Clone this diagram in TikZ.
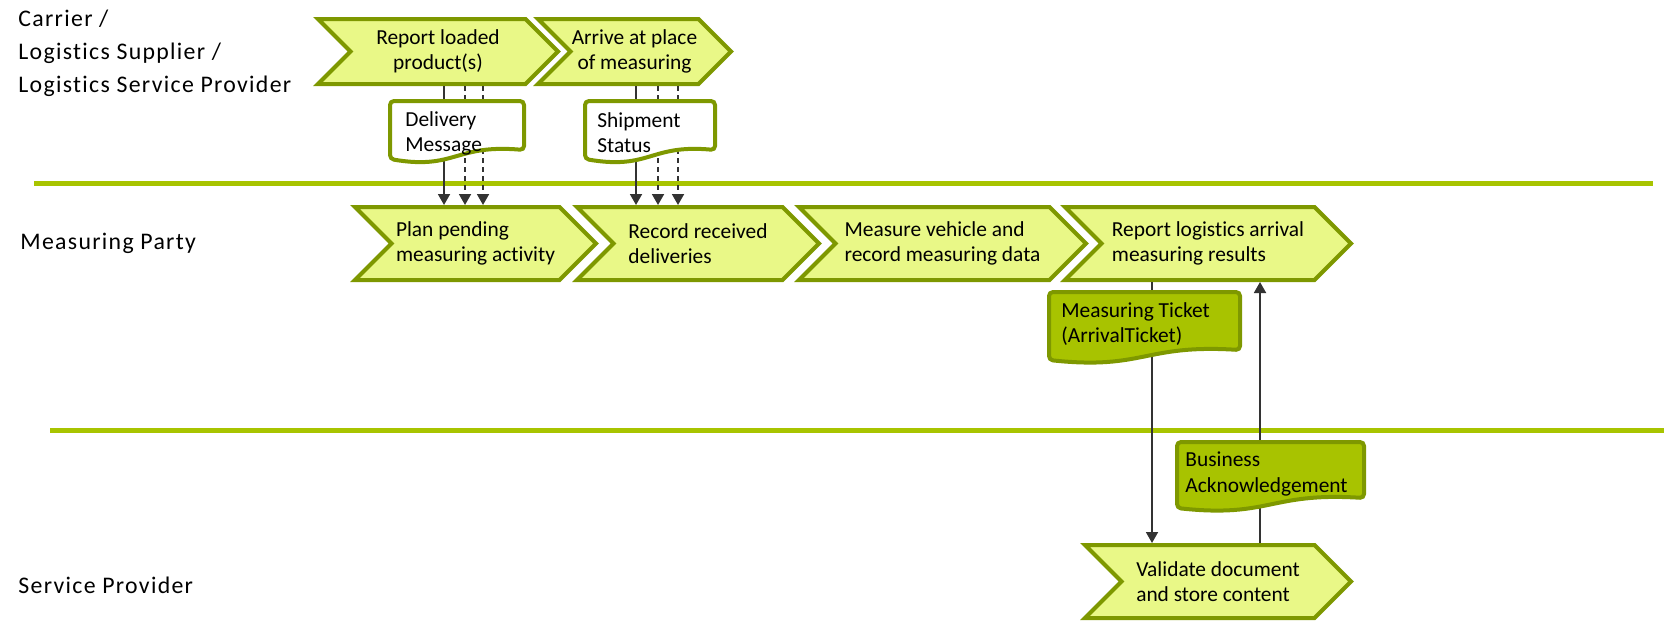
\documentclass[tikz,border=0pt]{standalone}
\usepackage{fontspec}
\setmainfont{Carlito}[Ligatures=NoCommon]
\newfontfamily\lanefont{Carlito}[LetterSpace=5.5, Ligatures=NoCommon]
\usetikzlibrary{shapes.symbols,arrows.meta}

\definecolor{lanegreen}{HTML}{A8C400}
\definecolor{olive}{HTML}{7E9800}
\definecolor{chevfill}{HTML}{E9F887}
\definecolor{docgreen}{HTML}{A8C300}
\definecolor{flowgray}{HTML}{333333}

\begin{document}
\begin{tikzpicture}[
  x=0.5pt, y=-0.5pt,
  font=\fontsize{10.7}{12.6}\selectfont,
  lane/.style={draw=lanegreen, line width=2.5pt},
  lbl/.style={font=\lanefont\fontsize{11.9}{16.5}\selectfont, align=left, anchor=west, inner sep=0},
  chev/.style={signal, signal from=west, signal to=east, signal pointer angle=90,
    draw=olive, fill=chevfill, line width=2pt, inner sep=0, align=left},
  docbox/.style={draw=olive, line width=2pt, rounded corners=2pt},
  doctxt/.style={align=left, anchor=west, inner sep=0},
  flow/.style={draw=flowgray, line width=0.9pt, -{Triangle[width=6pt,length=5.5pt]}},
  dashflow/.style={dash pattern=on 2.5pt off 2pt},
]
\useasboundingbox (0,0) rectangle (1664,623);
% --- lane labels ---
\node[lbl] (carrier) at (18,53) {Carrier /\\Logistics Supplier /\\Logistics Service Provider};
\node[lbl] (mparty) at (20,243) {Measuring Party};
\node[lbl] (sprov) at (18,585) {Service Provider};
% --- lane separators ---
\draw[lane] (34,183) -- (1653,183);
\draw[lane] (50,430) -- (1664,430);
% ===================== CARRIER (top) =====================
\node[chev, align=center, minimum width=120pt, minimum height=32.5pt] (report) at (438,51.5) {Report loaded\\product(s)};
\node[chev, align=center, minimum width=96.5pt, minimum height=32.5pt] (arrive) at (634.5,51.5) {Arrive at place\\of measuring};
% ===================== MEASURING PARTY (middle) =====================
\node[chev, minimum width=120.5pt, minimum height=36.5pt] (plan) at (475.5,243.5) {Plan pending\\measuring activity};
\node[chev, minimum width=121pt, minimum height=36.5pt] (record) at (698,243.5) {Record received\\deliveries};
\node[chev, minimum width=143.5pt, minimum height=36.5pt] (measure) at (942.5,243.5) {Measure vehicle and\\record measuring data};
\node[chev, minimum width=143pt, minimum height=36.5pt] (results) at (1208,243.5) {Report logistics arrival\\measuring results};
% ===================== SERVICE PROVIDER (bottom) =====================
\node[chev, minimum width=133pt, minimum height=36.5pt] (validate) at (1218,581.5) {Validate document\\and store content};
% --- message flows ---
\foreach \dx/\ls in {3/solid, 13.5/dashflow, 22.5/dashflow}
  \draw[flow, \ls] ([xshift=\dx pt]report.south) -- ([xshift=\dx pt]report.south |- plan.north);
\foreach \dx/\ls in {0.75/solid, 11.75/dashflow, 21.75/dashflow}
  \draw[flow, \ls] ([xshift=\dx pt]arrive.south) -- ([xshift=\dx pt]arrive.south |- record.north);
\draw[flow] ([xshift=-28pt]results.south) -- ([xshift=-28pt]results.south |- validate.north);
\draw[flow] ([xshift=21pt]validate.north) -- ([xshift=21pt]validate.north |- results.south);
% --- documents ---
\path[docbox, fill=white] (390,101) -- (524,101) -- (524,150) .. controls (455,144) and (455,170) .. (390,159) -- cycle;
\node[doctxt] (delmsg) at (405,133) {Delivery\\Message};
\path[docbox, fill=white] (585,101) -- (715,101) -- (715,150) .. controls (650,144) and (650,170) .. (585,159) -- cycle;
\node[doctxt] (shipst) at (597,133) {Shipment\\Status};
\path[docbox, fill=docgreen] (1049,292) -- (1240,292) -- (1240,350) .. controls (1144,344) and (1144,370) .. (1049,360) -- cycle;
\node[doctxt] (ticket) at (1061,324) {Measuring Ticket\\(ArrivalTicket)};
\path[docbox, fill=docgreen] (1177,442) -- (1364,442) -- (1364,498) .. controls (1270,492) and (1270,518) .. (1177,508) -- cycle;
\node[doctxt] (bizack) at (1185,474) {Business\\Acknowledgement};
\end{tikzpicture}
\end{document}
